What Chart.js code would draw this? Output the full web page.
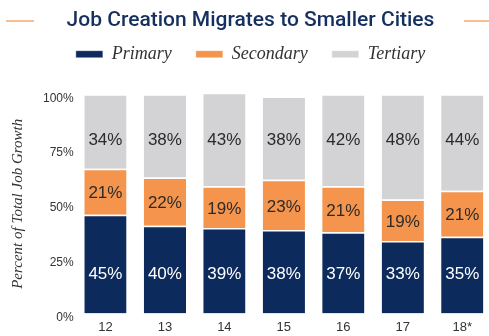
<!DOCTYPE html>
<html lang="en">
  <head>
    <meta charset="UTF-8" />
    <title>Job Creation Migrates to Smaller Cities</title>
    <script src="https://cdn.jsdelivr.net/npm/chart.js"></script>
    <style>
      html,
      body {
        margin: 0;
        padding: 0;
        background: #ffffff;
        overflow: hidden;
      }
      #wrap {
        width: 494px;
        height: 336px;
      }
    </style>
  </head>
  <body>
    <div id="wrap"><canvas id="chart"></canvas></div>
    <script>
      // chart data
      const years = ['12', '13', '14', '15', '16', '17', '18*'];
      const primary = [45, 40, 39, 38, 37, 33, 35];
      const secondary = [21, 22, 19, 23, 21, 19, 21];
      const tertiary = [34, 38, 43, 38, 42, 48, 44];

      const navy = '#0c2b5c';
      const orange = '#f5944c';
      const grey = '#d3d3d5';

      // little orange rules either side of the title
      const titleRules = {
        id: 'titleRules',
        afterDraw(chart) {
          const ctx = chart.ctx;
          ctx.save();
          ctx.strokeStyle = '#f6a86f';
          ctx.lineWidth = 1.5;
          ctx.beginPath();
          ctx.moveTo(6, 21);
          ctx.lineTo(34, 21);
          ctx.moveTo(464, 21);
          ctx.lineTo(494, 21);
          ctx.stroke();
          ctx.restore();
        },
      };

      // extra room between the legend and the bars
      const legendGap = {
        id: 'legendGap',
        beforeInit(chart) {
          const legend = chart.legend;
          if (!legend) return;
          const fit = legend.fit;
          legend.fit = function () {
            fit.call(this);
            this.height += 21;
          };
        },
      };

      // value labels: primary and tertiary sit on a common line, secondary in its segment
      const labelLevel = [18, null, 79];
      const segmentLabels = {
        id: 'segmentLabels',
        afterDatasetsDraw(chart) {
          const ctx = chart.ctx;
          const yScale = chart.scales.y;
          ctx.save();
          ctx.font = '17px "Liberation Sans", Arial, sans-serif';
          ctx.textAlign = 'center';
          ctx.textBaseline = 'middle';
          chart.data.datasets.forEach((ds, i) => {
            const meta = chart.getDatasetMeta(i);
            meta.data.forEach((bar, j) => {
              let y = (bar.y + bar.base) / 2 + 2;
              if (labelLevel[i] !== null) y = yScale.getPixelForValue(labelLevel[i]);
              ctx.fillStyle = i === 0 ? '#ffffff' : '#2b2b2b';
              ctx.fillText(ds.data[j] + '%', bar.x, y);
            });
          });
          ctx.restore();
        },
      };

      const ctx = document.getElementById('chart').getContext('2d');
      new Chart(ctx, {
        type: 'bar',
        data: {
          labels: years,
          datasets: [
            { label: 'Primary', data: primary, backgroundColor: navy },
            { label: 'Secondary', data: secondary, backgroundColor: orange },
            { label: 'Tertiary', data: tertiary, backgroundColor: grey },
          ],
        },
        options: {
          responsive: true,
          maintainAspectRatio: false,
          animation: false,
          layout: { padding: { top: 8, right: 2, bottom: -5, left: 9 } },
          datasets: {
            bar: {
              barPercentage: 0.71,
              categoryPercentage: 1,
              borderColor: '#ffffff',
              borderWidth: { top: 1.5, bottom: 0, left: 0, right: 0 },
              borderSkipped: false,
            },
          },
          plugins: {
            title: {
              display: true,
              text: 'Job Creation Migrates to Smaller Cities',
              color: '#15305f',
              font: { family: 'Roboto', size: 21, weight: '500' },
              padding: { top: 0, bottom: -12 },
            },
            legend: {
              position: 'top',
              labels: {
                boxWidth: 27,
                boxHeight: 7,
                padding: 24,
                color: '#333333',
                font: { family: '"Liberation Serif", serif', size: 18, style: 'italic' },
              },
            },
            tooltip: { enabled: false },
          },
          scales: {
            x: {
              stacked: true,
              grid: { display: false, drawTicks: false },
              border: { display: false },
              ticks: {
                color: '#333333',
                padding: 6,
                font: { family: '"Liberation Sans", Arial, sans-serif', size: 13 },
              },
            },
            y: {
              stacked: true,
              min: 0,
              max: 100,
              grid: { display: false, drawTicks: false },
              border: { display: false },
              ticks: {
                stepSize: 25,
                color: '#333333',
                padding: 2,
                labelOffset: 4,
                font: { family: '"Liberation Sans", Arial, sans-serif', size: 12 },
                callback: (v) => v + '%',
              },
              title: {
                display: true,
                text: 'Percent of Total Job Growth',
                color: '#333333',
                padding: { top: 0, bottom: 14 },
                font: { family: '"Liberation Serif", serif', size: 15, style: 'italic' },
              },
            },
          },
        },
        plugins: [titleRules, legendGap, segmentLabels],
      });
    </script>
  </body>
</html>
